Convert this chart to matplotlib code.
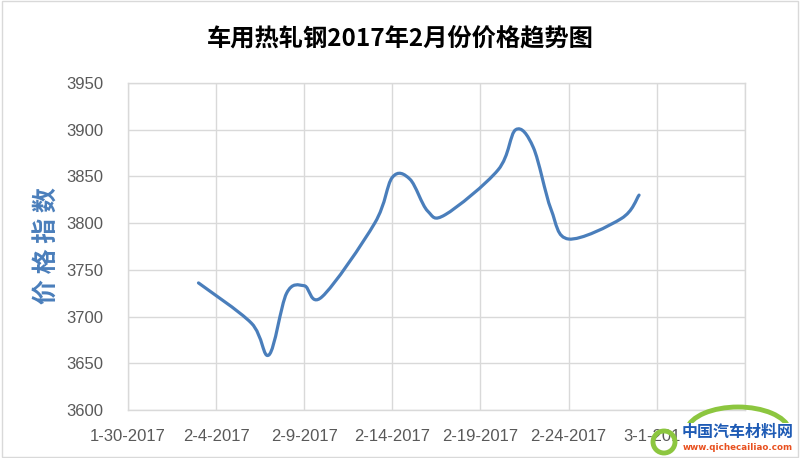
import matplotlib
matplotlib.use("Agg")
import matplotlib.pyplot as plt
import matplotlib.dates as mdates
from matplotlib.path import Path
from matplotlib.patches import PathPatch, Rectangle, Arc, Ellipse
import numpy as np
import datetime as dt

plt.rcParams['font.family'] = ['Noto Sans CJK SC', 'DejaVu Sans']

# ---- data ----
dates = ["2017-02-03", "2017-02-06", "2017-02-07", "2017-02-08", "2017-02-09",
         "2017-02-10", "2017-02-13", "2017-02-14", "2017-02-15", "2017-02-16",
         "2017-02-17", "2017-02-20", "2017-02-21", "2017-02-22", "2017-02-23",
         "2017-02-24", "2017-02-27", "2017-02-28"]
values = [3736, 3693, 3659, 3725, 3733,
          3721, 3800, 3849, 3847, 3813,
          3809, 3857, 3900, 3881, 3815,
          3783, 3805, 3830]
tick_dates = ["2017-01-30", "2017-02-04", "2017-02-09", "2017-02-14",
              "2017-02-19", "2017-02-24", "2017-03-01", "2017-03-06"]
tick_labels = ["1-30-2017", "2-4-2017", "2-9-2017", "2-14-2017",
               "2-19-2017", "2-24-2017", "3-1-2017", ""]
y_ticks = [3600, 3650, 3700, 3750, 3800, 3850, 3900, 3950]
title = "车用热轧钢2017年2月份价格趋势图"
ylabel = "价 格 指 数"

# ---- figure ----
fig = plt.figure(figsize=(8.0, 4.58), dpi=100)
ax = fig.add_axes([0.16, 0.1048, 0.771, 0.714])

xs = np.array([mdates.date2num(dt.datetime.strptime(d, "%Y-%m-%d")) for d in dates])
ys = np.array(values, dtype=float)
pts = np.column_stack([xs, ys])

# smoothed line (Bezier segments like Excel's smoothed line)
verts = [tuple(pts[0])]
codes = [Path.MOVETO]
n = len(pts)
for i in range(n - 1):
    p0 = pts[i - 1] if i > 0 else pts[i]
    p1 = pts[i]
    p2 = pts[i + 1]
    p3 = pts[i + 2] if i + 2 < n else pts[i + 1]
    c1 = p1 + (p2 - p0) / 6.0
    c2 = p2 - (p3 - p1) / 6.0
    verts += [tuple(c1), tuple(c2), tuple(p2)]
    codes += [Path.CURVE4, Path.CURVE4, Path.CURVE4]
patch = PathPatch(Path(verts, codes), facecolor='none', edgecolor='#4A7EBB',
                  linewidth=2.3, capstyle='round', joinstyle='round', zorder=3)
ax.add_patch(patch)

tx = [mdates.date2num(dt.datetime.strptime(d, "%Y-%m-%d")) for d in tick_dates]
ax.set_xlim(tx[0], tx[-1])
ax.set_ylim(y_ticks[0], y_ticks[-1])
ax.set_xticks(tx)
ax.set_xticklabels(tick_labels)
ax.set_yticks(y_ticks)
ax.grid(True, color='#D9D9D9', linewidth=1.0)
ax.set_axisbelow(True)
for s in ax.spines.values():
    s.set_color('#D9D9D9')
    s.set_linewidth(1.0)
ax.tick_params(axis='both', length=0, colors='#595959', labelsize=12)
ax.tick_params(axis='x', pad=14)
ax.tick_params(axis='y', pad=18)
for lab in ax.get_xticklabels() + ax.get_yticklabels():
    lab.set_family(['Liberation Sans', 'DejaVu Sans'])

fig.text(0.5, 1 - 38 / 458, title, ha='center', va='center', fontsize=17.5,
         fontweight='bold', color='#000000')
fig.text(48 / 800, 1 - 246 / 458, ylabel, ha='center', va='center', rotation=90,
         fontsize=18, fontweight='bold', color='#4A7EBB')

# chart border
fig.patches.append(Rectangle((0.002, 0.002), 0.996, 0.996, transform=fig.transFigure,
                             fill=False, edgecolor='#D9D9D9', linewidth=1.0))

# watermark logo
fig.patches.append(Arc((738 / 800, 1 - 433 / 458), 104 / 800, 52 / 458,
                       theta1=8, theta2=172, transform=fig.transFigure,
                       color='#8CC63F', linewidth=3.5, zorder=5))
fig.patches.append(Ellipse((664 / 800, 1 - 442 / 458), 22 / 800, 22 / 458,
                           transform=fig.transFigure, facecolor='none',
                           edgecolor='#8CC63F', linewidth=3.5, zorder=5))
fig.text(738 / 800, 1 - 432 / 458, "中国汽车材料网", ha='center', va='center',
         fontsize=11.5, fontweight='bold', color='#1E5BB5', zorder=6,
         bbox=dict(facecolor='white', edgecolor='none', pad=0.5))
fig.text(738 / 800, 1 - 447 / 458, "www.qichecailiao.com", ha='center', va='center',
         fontsize=6.3, fontweight='bold', color='#E8501F', family=['DejaVu Sans'],
         zorder=6)

fig.savefig("out.png", dpi=100)
